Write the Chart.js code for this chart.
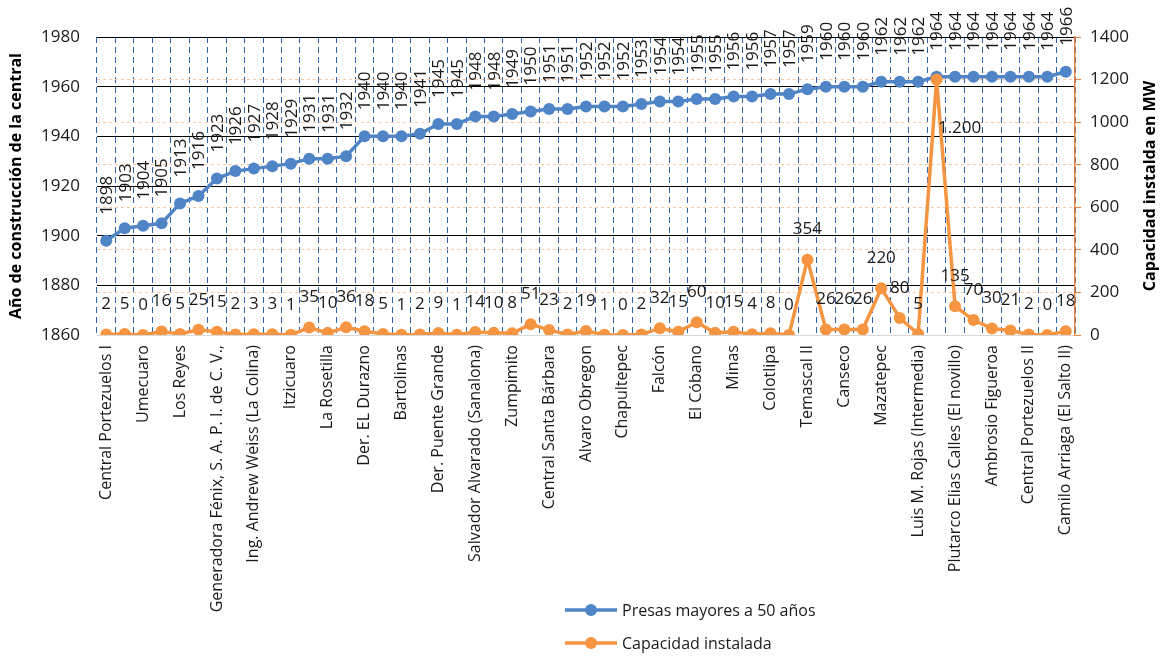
<!DOCTYPE html>
<html lang="es">
<head>
<meta charset="utf-8">
<title>Presas mayores a 50 años</title>
<script src="https://cdn.jsdelivr.net/npm/chart.js@4.4.1/dist/chart.umd.min.js"></script>
<style>
  html, body { margin: 0; padding: 0; background: #fff; }
  #contenedor { width: 1164px; height: 658px; }
</style>
</head>
<body>
<div id="contenedor"><canvas id="grafica" width="1164" height="658"></canvas></div>
<script>
// Centrales (sólo se rotula una de cada dos en el eje)
const centrales = [
  "Central Portezuelos I", "", "Umecuaro", "", "Los Reyes", "",
  "Generadora Fénix, S. A. P. I. de C. V.,", "", "Ing. Andrew Weiss (La Colina)", "",
  "Itzicuaro", "", "La Rosetilla", "", "Der. EL Durazno", "", "Bartolinas", "",
  "Der. Puente Grande", "", "Salvador Alvarado (Sanalona)", "", "Zumpimito", "",
  "Central Santa Bárbara", "", "Alvaro Obregon", "", "Chapultepec", "", "Falcón", "",
  "El Cóbano", "", "Minas", "", "Colotlipa", "", "Temascal II", "", "Canseco", "",
  "Mazatepec", "", "Luis M. Rojas (Intermedia)", "", "Plutarco Elias Calles (El novillo)", "",
  "Ambrosio Figueroa", "", "Central Portezuelos II", "", "Camilo Arriaga (El Salto II)"
];

// Año de construcción de cada central
const anios = [
  1898, 1903, 1904, 1905, 1913, 1916, 1923, 1926, 1927, 1928, 1929, 1931, 1931, 1932,
  1940, 1940, 1940, 1941, 1945, 1945, 1948, 1948, 1949, 1950, 1951, 1951, 1952, 1952,
  1952, 1953, 1954, 1954, 1955, 1955, 1956, 1956, 1957, 1957, 1959, 1960, 1960, 1960,
  1962, 1962, 1962, 1964, 1964, 1964, 1964, 1964, 1964, 1964, 1966
];

// Capacidad instalada en MW
const capacidad = [
  2, 5, 0, 16, 5, 25, 15, 2, 3, 3, 1, 35, 10, 36, 18, 5, 1, 2, 9, 1, 14, 10, 8, 51,
  23, 2, 19, 1, 0, 2, 32, 15, 60, 10, 15, 4, 8, 0, 354, 26, 26, 26, 220, 80, 5, 1200,
  135, 70, 30, 21, 2, 0, 18
];

const ticksAnios = { min: 1860, max: 1980, paso: 20 };
const ticksMW = { min: 0, max: 1400, paso: 200 };

const AZUL = "#4F84C6";
const NARANJA = "#F59541";
const FUENTE = "'Open Sans', sans-serif";
const TEXTO = "#1a1a1a";

// 1200 -> "1.200"
function formatoMW(v) {
  return String(v).replace(/\B(?=(\d{3})+(?!\d))/g, ".");
}

// Etiquetas de valor sobre cada punto
const etiquetasPlugin = {
  id: "etiquetas",
  afterDatasetsDraw(chart) {
    const ctx = chart.ctx;
    ctx.save();
    ctx.font = "17px " + FUENTE;
    ctx.fillStyle = TEXTO;

    chart.getDatasetMeta(0).data.forEach((p, i) => {
      ctx.save();
      ctx.translate(p.x + 1, p.y - 26);
      ctx.rotate(-Math.PI / 2);
      ctx.textAlign = "left";
      ctx.textBaseline = "middle";
      ctx.fillText(String(anios[i]), 0, 0);
      ctx.restore();
    });

    ctx.textAlign = "center";
    ctx.textBaseline = "middle";
    chart.getDatasetMeta(1).data.forEach((p, i) => {
      const v = capacidad[i];
      if (v >= 1000) {
        ctx.fillText(formatoMW(v), p.x + 23, p.y + 49);
      } else {
        ctx.fillText(formatoMW(v), p.x, p.y - 30);
      }
    });
    ctx.restore();
  }
};

// Título del eje derecho (leído de abajo hacia arriba) y leyenda en dos filas
const extrasPlugin = {
  id: "extras",
  afterDraw(chart) {
    const ctx = chart.ctx;
    const area = chart.chartArea;
    ctx.save();
    ctx.font = "bold 16px " + FUENTE;
    ctx.fillStyle = "#000";
    ctx.translate(1150, (area.top + area.bottom) / 2);
    ctx.rotate(-Math.PI / 2);
    ctx.textAlign = "center";
    ctx.textBaseline = "middle";
    ctx.fillText("Capacidad instalda en MW", 0, 0);
    ctx.restore();

    const x0 = 565;
    const filas = [610, 643];
    ctx.save();
    ctx.font = "16px " + FUENTE;
    ctx.textBaseline = "middle";
    ctx.textAlign = "left";
    chart.data.datasets.forEach((ds, i) => {
      const y = filas[i];
      ctx.strokeStyle = ds.borderColor;
      ctx.lineWidth = 3.5;
      ctx.beginPath();
      ctx.moveTo(x0, y);
      ctx.lineTo(x0 + 52, y);
      ctx.stroke();
      ctx.fillStyle = ds.backgroundColor;
      ctx.beginPath();
      ctx.arc(x0 + 26, y, 6, 0, Math.PI * 2);
      ctx.fill();
      ctx.fillStyle = TEXTO;
      ctx.fillText(ds.label, x0 + 57, y + 1);
    });
    ctx.restore();
  }
};

function crearGrafica() {
  const ctx = document.getElementById("grafica").getContext("2d");
  new Chart(ctx, {
    type: "line",
    data: {
      labels: centrales,
      datasets: [
        {
          label: "Presas mayores a 50 años",
          data: anios,
          yAxisID: "y",
          borderColor: AZUL,
          backgroundColor: AZUL,
          borderWidth: 3.5,
          pointRadius: 6,
          pointHoverRadius: 6,
          pointBorderWidth: 0,
          tension: 0,
          order: 1
        },
        {
          label: "Capacidad instalada",
          data: capacidad,
          yAxisID: "y1",
          borderColor: NARANJA,
          backgroundColor: NARANJA,
          borderWidth: 3.5,
          pointRadius: 6,
          pointHoverRadius: 6,
          pointBorderWidth: 0,
          tension: 0,
          order: 0
        }
      ]
    },
    options: {
      responsive: false,
      animation: false,
      layout: { padding: { top: 37, left: 0, right: 0, bottom: 0 } },
      plugins: {
        legend: { display: false },
        tooltip: { enabled: false }
      },
      scales: {
        x: {
          offset: true,
          afterFit: (scale) => { scale.height = 323; },
          grid: {
            offset: true,
            color: "#2F65B0",
            lineWidth: 1,
            drawTicks: false
          },
          border: { display: true, color: "#d9d9d9", width: 1, dash: [6, 4] },
          ticks: {
            autoSkip: false,
            minRotation: 90,
            maxRotation: 90,
            padding: 10,
            color: TEXTO,
            font: { family: FUENTE, size: 16 }
          }
        },
        y: {
          position: "left",
          min: ticksAnios.min,
          max: ticksAnios.max,
          afterFit: (scale) => { scale.width = 97; },
          grid: {
            color: (c) => (c.tick && c.tick.value === ticksAnios.min ? "#d9d9d9" : "#000"),
            lineWidth: 1,
            drawTicks: false
          },
          border: { display: false },
          ticks: {
            stepSize: ticksAnios.paso,
            padding: 17,
            color: TEXTO,
            font: { family: FUENTE, size: 17 },
            callback: (v) => String(v)
          },
          title: {
            display: true,
            text: "Año de construcción de la central",
            color: "#000",
            font: { family: FUENTE, size: 16, weight: "bold" },
            padding: { top: 7, bottom: 0 }
          }
        },
        y1: {
          position: "right",
          min: ticksMW.min,
          max: ticksMW.max,
          afterFit: (scale) => { scale.width = 89; },
          grid: {
            drawOnChartArea: true,
            color: (c) => {
              const v = c.tick ? c.tick.value : null;
              return v === ticksMW.min || v === ticksMW.max ? "rgba(0,0,0,0)" : "#F8C9A2";
            },
            lineWidth: 1,
            drawTicks: true,
            tickLength: 6,
            tickColor: "#E8833A",
            tickBorderDash: []
          },
          border: { display: true, color: "#E8833A", width: 1.5, dash: [3, 3] },
          ticks: {
            stepSize: ticksMW.paso,
            padding: 9,
            color: TEXTO,
            font: { family: FUENTE, size: 17 },
            callback: (v) => String(v)
          }
        }
      }
    },
    plugins: [etiquetasPlugin, extrasPlugin]
  });
}

Promise.all([
  document.fonts.load("16px 'Open Sans'"),
  document.fonts.load("bold 16px 'Open Sans'")
]).then(crearGrafica, crearGrafica);
</script>
</body>
</html>
